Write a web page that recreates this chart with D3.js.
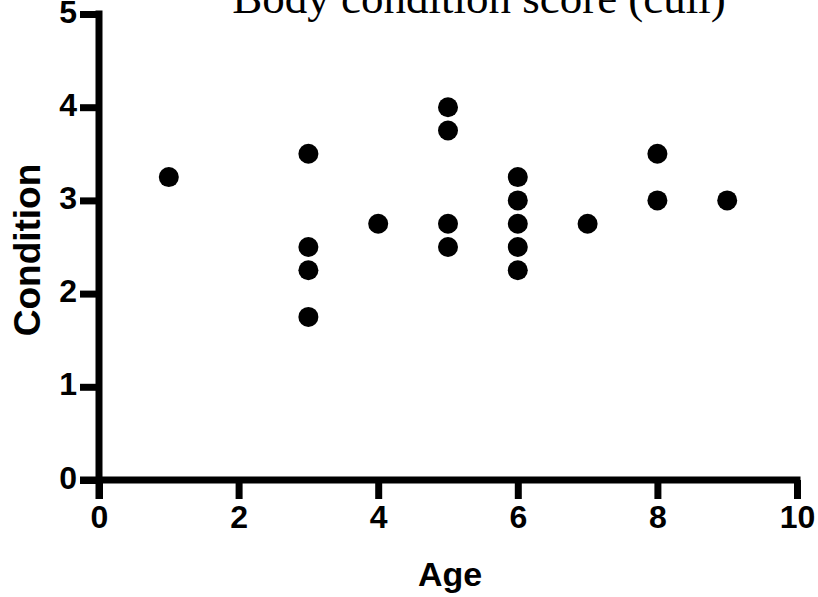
<!DOCTYPE html>
<html>
<head>
<meta charset="utf-8">
<script src="https://cdn.jsdelivr.net/npm/d3@7"></script>
<style>
  body { margin: 0; background: #fff; }
  .tick text { font-family: "Liberation Sans", Arial, sans-serif; font-weight: bold; }
</style>
</head>
<body>
<div id="chart"></div>
<script>
// data
const ages = [1, 3, 3, 3, 3, 4, 5, 5, 5, 5, 6, 6, 6, 6, 6, 7, 8, 8, 9];
const conditions = [3.25, 3.5, 2.5, 2.25, 1.75, 2.75, 4, 3.75, 2.75, 2.5, 3.25, 3, 2.75, 2.5, 2.25, 2.75, 3.5, 3, 3];
const xTicks = [0, 2, 4, 6, 8, 10];
const yTicks = [0, 1, 2, 3, 4, 5];

const width = 818, height = 597;
const plotLeft = 99, plotRight = 797, plotTop = 14, plotBottom = 480;
const axisW = 7, tickLen = 19;

let svg = d3.select("#chart").append("svg")
  .attr("width", width)
  .attr("height", height);

let x = d3.scaleLinear().domain([0, 10]).range([plotLeft, plotRight]);
let y = d3.scaleLinear().domain([0, 5]).range([plotBottom, plotTop]);

// title (cut off at top like the original)
svg.append("text")
  .attr("x", 479)
  .attr("y", 13)
  .attr("text-anchor", "middle")
  .style("font-family", "'Liberation Serif', 'Times New Roman', serif")
  .style("font-size", "45px")
  .text("Body condition score (cull)");

// axes
let xAxis = svg.append("g")
  .attr("transform", `translate(0, ${plotBottom})`)
  .call(d3.axisBottom(x).tickValues(xTicks).tickSize(tickLen).tickPadding(6).tickFormat(d3.format("d")));

let yAxis = svg.append("g")
  .attr("transform", `translate(${plotLeft}, 0)`)
  .call(d3.axisLeft(y).tickValues(yTicks).tickSize(tickLen).tickPadding(3).tickFormat(d3.format("d")));

[xAxis, yAxis].forEach(g => {
  g.select(".domain").remove();
  g.selectAll(".tick line").attr("stroke", "#000").attr("stroke-width", axisW);
  g.selectAll(".tick text").attr("fill", "#000").style("font-size", "32px");
});
yAxis.selectAll(".tick text").attr("dy", "0.25em");

// axis lines
svg.append("line")
  .attr("x1", plotLeft).attr("x2", plotLeft)
  .attr("y1", y(5) - axisW / 2).attr("y2", plotBottom + tickLen)
  .attr("stroke", "#000").attr("stroke-width", axisW);

svg.append("line")
  .attr("x1", plotLeft - tickLen).attr("x2", plotRight + axisW / 2)
  .attr("y1", plotBottom).attr("y2", plotBottom)
  .attr("stroke", "#000").attr("stroke-width", axisW);

// axis titles
svg.append("text")
  .attr("x", 450)
  .attr("y", 586)
  .attr("text-anchor", "middle")
  .style("font-family", "'Liberation Sans', Arial, sans-serif")
  .style("font-weight", "bold")
  .style("font-size", "34px")
  .text("Age");

svg.append("text")
  .attr("transform", `translate(40, ${(163 + 337) / 2}) rotate(-90)`)
  .attr("text-anchor", "middle")
  .style("font-family", "'Liberation Sans', Arial, sans-serif")
  .style("font-weight", "bold")
  .style("font-size", "37px")
  .text("Condition");

// points
svg.selectAll(".dot")
  .data(ages.map((a, i) => ({ age: a, cond: conditions[i] })))
  .enter()
  .append("circle")
  .attr("class", "dot")
  .attr("cx", d => x(d.age))
  .attr("cy", d => y(d.cond))
  .attr("r", 10)
  .attr("fill", "#000");
</script>
</body>
</html>
